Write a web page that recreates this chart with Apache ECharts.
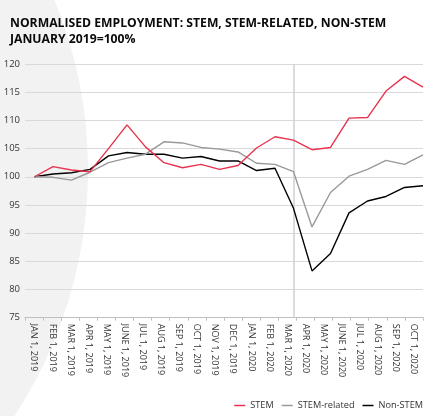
<!DOCTYPE html>
<html>
<head>
<meta charset="utf-8">
<script src="https://cdn.jsdelivr.net/npm/echarts@6/dist/echarts.min.js"></script>
<style>
html,body{margin:0;padding:0;background:#fff;}
#c{width:433px;height:416px;}
</style>
</head>
<body>
<div id="c"></div>
<script>
var categories = ['JAN 1, 2019','FEB 1, 2019','MAR 1, 2019','APR 1, 2019','MAY 1, 2019','JUNE 1, 2019','JUL 1, 2019','AUG 1, 2019','SEP 1, 2019','OCT 1, 2019','NOV 1, 2019','DEC 1, 2019','JAN 1, 2020','FEB 1, 2020','MAR 1, 2020','APR 1, 2020','MAY 1, 2020','JUNE 1, 2020','JUL 1, 2020','AUG 1, 2020','SEP 1, 2020','OCT 1, 2020'];
var stem = [100, 101.8, 101.2, 100.9, 105.0, 109.2, 105.3, 102.5, 101.6, 102.2, 101.3, 102.0, 105.1, 107.1, 106.5, 104.8, 105.2, 110.4, 110.5, 115.2, 117.8, 115.9];
var stemRelated = [100, 99.9, 99.4, 100.8, 102.5, 103.3, 104.0, 106.2, 106.0, 105.2, 104.9, 104.4, 102.4, 102.2, 100.9, 91.1, 97.2, 100.1, 101.3, 102.9, 102.2, 103.9];
var nonStem = [100, 100.5, 100.7, 101.3, 103.7, 104.3, 104.0, 104.0, 103.3, 103.6, 102.8, 102.8, 101.1, 101.5, 94.4, 83.3, 86.4, 93.6, 95.7, 96.5, 98.1, 98.4];
var yTicks = {min: 75, max: 120, interval: 5};
var markerCategory = 'MAR 1, 2020';

var chart = echarts.init(document.getElementById('c'), null, {renderer: 'canvas'});
var textColor = '#333333';
var font = 'Open Sans';
chart.setOption({
  animation: false,
  backgroundColor: '#ffffff',
  graphic: [{
    type: 'circle', z: -10, silent: true,
    shape: {cx: -360, cy: 170, r: 448},
    style: {fill: '#f2f2f2'}
  }],
  title: {
    text: 'NORMALISED EMPLOYMENT: STEM, STEM-RELATED, NON-STEM\nJANUARY 2019=100%',
    left: 5, top: 11,
    textStyle: {fontFamily: 'Open Sans', fontWeight: 'bold', fontSize: 12.2, lineHeight: 16, color: '#0a0a0a'}
  },
  legend: {
    right: 5, top: 396,
    icon: 'rect', itemWidth: 11, itemHeight: 1.5, itemGap: 8,
    textStyle: {fontFamily: font, fontSize: 9.2, color: textColor},
    data: ['STEM', 'STEM-related', 'Non-STEM']
  },
  grid: [
    {left: 25, right: 10, top: 64, bottom: 98.3},
    {left: 34.5, right: 10, top: 64, bottom: 98.3}
  ],
  xAxis: [
    {
      gridIndex: 0, type: 'category', data: categories, boundaryGap: true,
      axisLine: {lineStyle: {color: '#bfbfbf', width: 1}},
      axisTick: {show: true, length: 3, lineStyle: {color: '#bfbfbf'}},
      axisLabel: {rotate: -90, interval: 0, fontFamily: font, fontSize: 9, color: textColor, margin: 6}
    },
    {
      gridIndex: 1, type: 'category', data: categories, boundaryGap: false,
      show: false
    }
  ],
  yAxis: [
    {
      gridIndex: 0, type: 'value', min: yTicks.min, max: yTicks.max, interval: yTicks.interval,
      axisLine: {show: false}, axisTick: {show: false},
      splitLine: {lineStyle: {color: '#d9d9d9', width: 1.2}},
      axisLabel: {fontFamily: font, fontSize: 9.5, color: textColor, margin: 5}
    },
    {
      gridIndex: 1, type: 'value', min: yTicks.min, max: yTicks.max, interval: yTicks.interval,
      show: false, splitLine: {show: false}
    }
  ],
  series: [
    {
      name: 'STEM', type: 'line', xAxisIndex: 1, yAxisIndex: 1, data: stem,
      showSymbol: false, symbol: 'none', color: '#e8334f',
      lineStyle: {width: 1.4, color: '#e8334f'}, z: 5,
      markLine: {
        silent: true, symbol: 'none', label: {show: false},
        lineStyle: {color: '#d0d0d0', width: 1.5, type: 'solid'},
        data: [{xAxis: markerCategory}], z: 1
      }
    },
    {
      name: 'STEM-related', type: 'line', xAxisIndex: 1, yAxisIndex: 1, data: stemRelated,
      showSymbol: false, symbol: 'none', color: '#999999',
      lineStyle: {width: 1.4, color: '#999999'}, z: 4
    },
    {
      name: 'Non-STEM', type: 'line', xAxisIndex: 1, yAxisIndex: 1, data: nonStem,
      showSymbol: false, symbol: 'none', color: '#000000',
      lineStyle: {width: 1.4, color: '#000000'}, z: 3
    }
  ]
});
</script>
</body>
</html>
